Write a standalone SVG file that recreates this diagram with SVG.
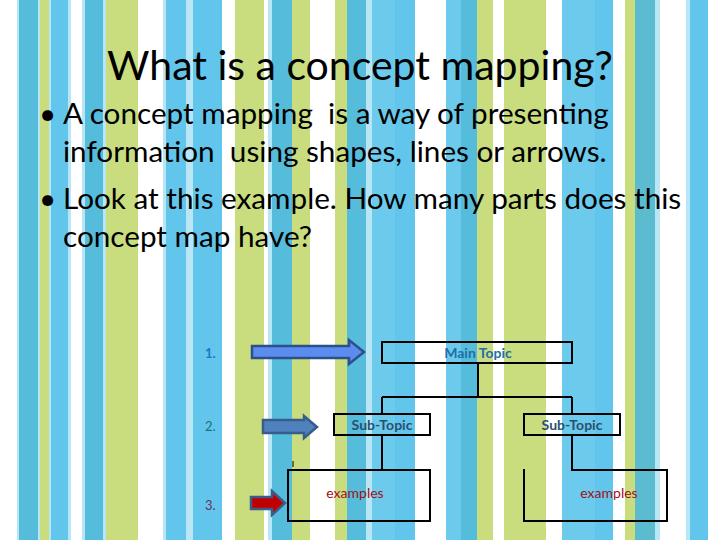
<svg xmlns="http://www.w3.org/2000/svg" width="720" height="540" viewBox="0 0 720 540">
<style>
.b{fill:#62c6ec}.bd{fill:#55bcdc}.g{fill:#c9dd7f}.l{fill:#b8e6f5}
.title{font-family:Lato,"Liberation Sans",sans-serif;font-size:41px;fill:#000}
.body{font-family:Lato,"Liberation Sans",sans-serif;font-size:29.7px;fill:#000}
.lab{font-family:Lato,"Liberation Sans",sans-serif;font-size:14px;text-anchor:middle}
.num{font-family:Lato,"Liberation Sans",sans-serif;font-size:13px}
.box{fill:none;stroke:#000;stroke-width:2}
.ln{fill:none;stroke:#000;stroke-width:2}
</style>
<rect width="720" height="540" fill="#fff"/>
<g id="background">
<rect class="l" x="17" y="0" width="24" height="540"/>
<rect class="bd" x="19" y="0" width="19" height="540"/>
<rect class="g" x="40" y="0" width="9" height="540"/>
<rect class="l" x="49" y="0" width="22" height="540"/>
<rect class="b" x="51" y="0" width="17" height="540"/>
<rect class="l" x="82" y="0" width="24" height="540"/>
<rect class="bd" x="85" y="0" width="18" height="540"/>
<rect class="g" x="106" y="0" width="32" height="540"/>
<rect class="l" x="163" y="0" width="30" height="540"/>
<rect class="b" x="166" y="0" width="20" height="540"/>
<rect class="b" x="193" y="0" width="29" height="540"/>
<rect class="g" x="235" y="0" width="29" height="540"/>
<rect class="l" x="268" y="0" width="4" height="540"/>
<rect class="bd" x="272" y="0" width="20" height="540"/>
<rect class="g" x="292" y="0" width="18" height="540"/>
<rect class="g" x="335" y="0" width="12" height="540"/>
<rect class="bd" x="347" y="0" width="19" height="540"/>
<rect class="l" x="366" y="0" width="6" height="540"/>
<rect fill="#6ccbec" x="372" y="0" width="23" height="540"/>
<rect class="b" x="395" y="0" width="20" height="540"/>
<rect fill="#6ccbec" x="446" y="0" width="15" height="540"/>
<rect class="bd" x="461" y="0" width="16" height="540"/>
<rect class="g" x="477" y="0" width="16" height="540"/>
<rect class="g" x="504" y="0" width="42" height="540"/>
<rect fill="#6ccbec" x="562" y="0" width="33" height="540"/>
<rect class="b" x="595" y="0" width="18" height="540"/>
<rect class="g" x="625" y="0" width="10" height="540"/>
<rect fill="#5bbcd0" x="635" y="0" width="20" height="540"/>
<rect class="l" x="655" y="0" width="5" height="540"/>
<rect class="l" x="686" y="0" width="4" height="540"/>
<rect class="b" x="690" y="0" width="18" height="540"/>
</g>
<g id="text">
<text class="title" x="360" y="80" text-anchor="middle">What is a concept mapping?</text>
<text class="body" x="39" y="124" font-size="26">•</text>
<text class="body" x="63" y="124" xml:space="preserve">A concept mapping  is a way of presenting</text>
<text class="body" x="63" y="162" xml:space="preserve">information  using shapes, lines or arrows.</text>
<text class="body" x="39" y="209" font-size="26">•</text>
<text class="body" x="63" y="209">Look at this example. How many parts does this</text>
<text class="body" x="63" y="247">concept map have?</text>
</g>
<g id="connectors">
<path class="ln" d="M478 363V397M382 397H572M382 397V414M572 397V414"/>
<path class="ln" d="M382 435V470"/>
<path class="ln" d="M572 435V470H667V521H524V469"/>
<path d="M293 461V467" stroke="#000" stroke-width="1"/>
</g>
<g id="arrow1">
<path d="M252 346H349V340L364 352L349 364V358H252Z" fill="#5b8cf0" stroke="#2f4f8a" stroke-width="2.5" stroke-linejoin="miter"/>
</g>
<g id="arrow2">
<path d="M263 420H304V416L317 427L304 438V433H263Z" fill="#4f81bd" stroke="#385d8a" stroke-width="2.5"/>
</g>
<g id="arrow3">
<path d="M251 497H272V491L285 503L272 515V509H251Z" fill="#c00000" stroke="#3d5a8a" stroke-width="2.5"/>
</g>
<g id="num1"><text class="num" x="205" y="358" fill="#1a78c2" font-weight="bold">1.</text></g>
<g id="num2"><text class="num" x="205" y="431" fill="#1f6f7a">2.</text></g>
<g id="num3"><text class="num" x="205" y="510" fill="#6b3060">3.</text></g>
<g id="main-topic">
<rect class="box" x="382" y="342" width="190" height="21"/>
<text class="lab" x="478" y="358" fill="#1f6fa8" font-weight="bold">Main Topic</text>
</g>
<g id="sub-topic-left">
<rect class="box" x="334" y="414" width="96" height="21"/>
<text class="lab" x="382" y="430" fill="#2a5070" font-weight="bold">Sub-Topic</text>
</g>
<g id="sub-topic-right">
<rect class="box" x="524" y="414" width="96" height="21"/>
<text class="lab" x="572" y="430" fill="#2a5070" font-weight="bold">Sub-Topic</text>
</g>
<g id="examples-left">
<rect class="box" x="288" y="470" width="142" height="51"/>
<text class="lab" x="355" y="498" fill="#a01020" font-size="13.5">examples</text>
</g>
<g id="examples-right">
<text class="lab" x="609" y="498" fill="#a01020" font-size="13.5">examples</text>
</g>
</svg>
